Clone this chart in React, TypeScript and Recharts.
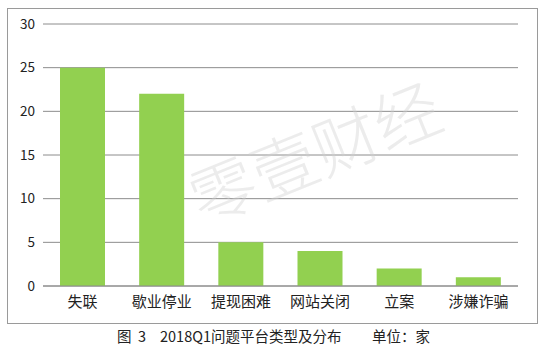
import React from 'react';
import { BarChart, Bar, XAxis, YAxis, CartesianGrid } from 'recharts';

const categories = ['失联', '歇业停业', '提现困难', '网站关闭', '立案', '涉嫌诈骗'];
const counts = [25, 22, 5, 4, 2, 1];
const yTicks = [0, 5, 10, 15, 20, 25, 30];

const data = categories.map((name, i) => ({ name, value: counts[i] }));

const FONT = "'Noto Sans CJK SC', 'Noto Sans', sans-serif";

const captionStyle: React.CSSProperties = {
  position: 'absolute',
  top: 326,
  fontSize: 14.5,
  color: '#222',
  whiteSpace: 'pre',
  lineHeight: '20px',
};

export default function App() {
  return (
    <div style={{ position: 'absolute', left: 0, top: 0, width: 546, height: 356, background: '#fff', fontFamily: FONT }}>
      {/* frame around the chart */}
      <div
        style={{
          position: 'absolute',
          left: 7,
          top: 8,
          width: 529,
          height: 314,
          border: '1px solid #9a9a9a',
        }}
      />
      <div style={{ position: 'absolute', left: 0, top: 0 }}>
        <BarChart
          width={546}
          height={356}
          data={data}
          margin={{ top: 24, right: 28, left: 0, bottom: 40 }}
          barCategoryGap={0}
        >
          <CartesianGrid vertical={false} stroke="#8c8c8c" strokeWidth={1} />
          <XAxis
            dataKey="name"
            height={30}
            tickLine={false}
            axisLine={{ stroke: '#8c8c8c' }}
            tickMargin={4}
            tick={{ fill: '#222', fontSize: 15, fontFamily: FONT }}
            interval={0}
          />
          <YAxis
            width={43}
            domain={[0, 30]}
            ticks={yTicks}
            axisLine={false}
            tickLine={false}
            tick={{ fill: '#222', fontSize: 13.5, fontFamily: FONT }}
          />
          <Bar dataKey="value" fill="#92D050" barSize={45} isAnimationActive={false} />
        </BarChart>
      </div>
      {/* watermark */}
      <svg width={546} height={356} style={{ position: 'absolute', left: 0, top: 0, pointerEvents: 'none' }}>
        <text
          x={317}
          y={178}
          textAnchor="middle"
          fontSize={66}
          fontWeight={300}
          fill="#d0d0d0"
          fillOpacity={0.4}
          fontFamily={FONT}
          transform="rotate(-22 317 158)"
        >
          零壹财经
        </text>
      </svg>
      <div style={{ ...captionStyle, left: 117 }}>{'图  3'}</div>
      <div style={{ ...captionStyle, left: 160 }}>2018Q1问题平台类型及分布</div>
      <div style={{ ...captionStyle, left: 372 }}>单位：家</div>
    </div>
  );
}
